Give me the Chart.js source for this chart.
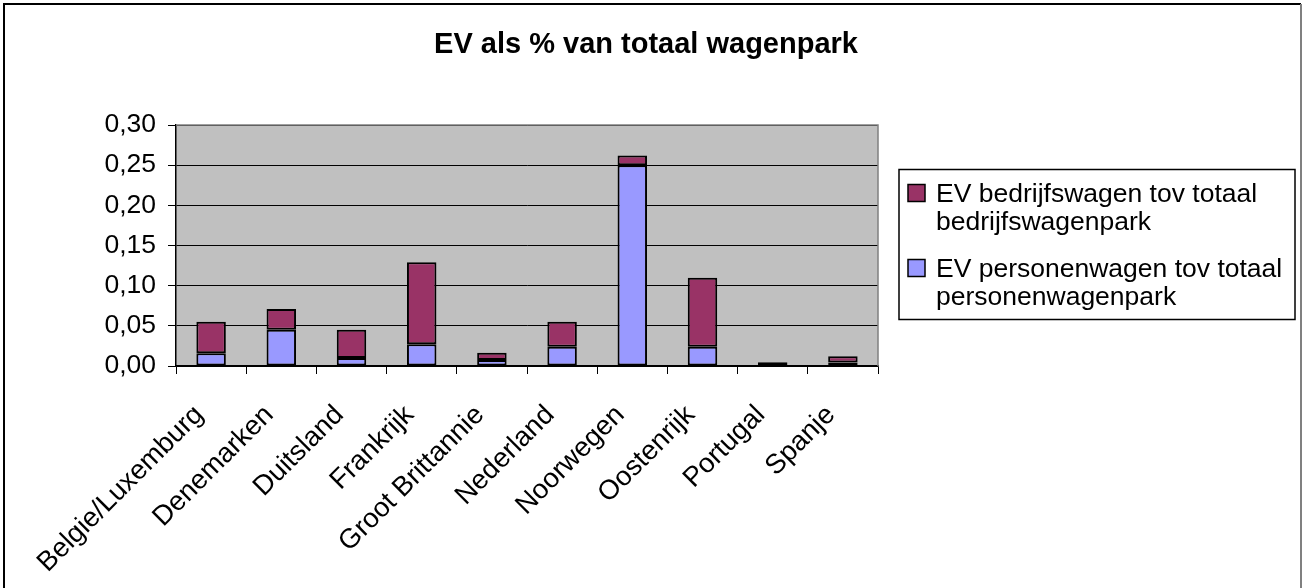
<!DOCTYPE html>
<html>
<head>
<meta charset="utf-8">
<script src="https://cdn.jsdelivr.net/npm/chart.js@4/dist/chart.umd.min.js"></script>
<style>
  body { margin: 0; background: #fff; }
  #wrap { width: 1303px; height: 588px; position: relative; }
</style>
</head>
<body>
<div id="wrap"><canvas id="myChart"></canvas></div>
<script>
const chartTitle = 'EV als % van totaal wagenpark';
const countries = ['Belgie/Luxemburg', 'Denemarken', 'Duitsland', 'Frankrijk', 'Groot Brittannie',
  'Nederland', 'Noorwegen', 'Oostenrijk', 'Portugal', 'Spanje'];
// personenwagen part (bottom, blue)
const personenwagen = [0.016, 0.045, 0.010, 0.027, 0.0075, 0.024, 0.250, 0.024, 0.0048, 0.0045];
// bedrijfswagen part (stacked on top, purple)
const bedrijfswagen = [0.039, 0.026, 0.035, 0.102, 0.009, 0.031, 0.012, 0.086, 0, 0.0075];
const yTicks = [0, 0.05, 0.10, 0.15, 0.20, 0.25, 0.30];

const FONT = 'Arial, "Liberation Sans", sans-serif';

// frame, title, grey plot background, and the boxed legend on the right
const excelLook = {
  id: 'excelLook',
  beforeDraw(chart) {
    const { ctx, chartArea: a } = chart;
    ctx.save();
    ctx.fillStyle = '#fff';
    ctx.fillRect(0, 0, chart.width, chart.height);
    ctx.fillStyle = '#c0c0c0';
    ctx.fillRect(a.left, a.top, a.right - a.left, a.bottom - a.top);
    ctx.restore();
  },
  afterDraw(chart) {
    const { ctx, chartArea: a } = chart;
    ctx.save();
    // outer frame
    ctx.lineWidth = 2;
    ctx.strokeStyle = '#000';
    ctx.beginPath();
    ctx.moveTo(4, chart.height); ctx.lineTo(4, 4); ctx.lineTo(1301, 4);
    ctx.stroke();
    ctx.strokeStyle = '#808080';
    ctx.beginPath();
    ctx.moveTo(1301, 4); ctx.lineTo(1301, chart.height);
    ctx.stroke();
    // plot area top / right edge
    ctx.lineWidth = 1.5;
    ctx.beginPath();
    ctx.moveTo(a.left, a.top); ctx.lineTo(a.right, a.top); ctx.lineTo(a.right, a.bottom);
    ctx.stroke();

    // title
    ctx.fillStyle = '#000';
    ctx.font = 'bold 29px ' + FONT;
    ctx.textAlign = 'center';
    ctx.textBaseline = 'alphabetic';
    ctx.fillText(chartTitle, 646, 53);
    ctx.textAlign = 'left';

    // legend
    const bx = 899, by = 169.5, bw = 396, bh = 150;
    ctx.lineWidth = 1.5;
    ctx.strokeStyle = '#000';
    ctx.strokeRect(bx, by, bw, bh);
    ctx.font = '26.5px ' + FONT;
    const items = chart.data.datasets.slice().reverse();
    let base = 201.5;
    items.forEach((ds) => {
      // wrap label into the box
      const words = ds.label.split(' ');
      const lines = [];
      let cur = '';
      words.forEach((w) => {
        const t = cur ? cur + ' ' + w : w;
        if (ctx.measureText(t).width > 352 && cur) { lines.push(cur); cur = w; } else cur = t;
      });
      lines.push(cur);
      ctx.fillStyle = ds.backgroundColor;
      ctx.fillRect(908, base - 17, 17, 17);
      ctx.lineWidth = 1.5;
      ctx.strokeRect(908, base - 17, 17, 17);
      ctx.fillStyle = '#000';
      lines.forEach((ln, i) => ctx.fillText(ln, 936, base + i * 28.5));
      base += 75;
    });
    ctx.restore();
  }
};

const config = {
  type: 'bar',
  data: {
    labels: countries,
    datasets: [{
      label: 'EV personenwagen tov totaal personenwagenpark',
      data: personenwagen,
      backgroundColor: '#9999ff',
      borderColor: '#000',
      borderWidth: 2,
      borderSkipped: false,
      barPercentage: 0.42,
      categoryPercentage: 1
    }, {
      label: 'EV bedrijfswagen tov totaal bedrijfswagenpark',
      data: bedrijfswagen,
      backgroundColor: '#993366',
      borderColor: '#000',
      borderWidth: 2,
      borderSkipped: false,
      barPercentage: 0.42,
      categoryPercentage: 1
    }]
  },
  options: {
    responsive: true,
    maintainAspectRatio: false,
    animation: false,
    layout: { padding: { left: 0, top: 125, right: 425, bottom: 0 } },
    plugins: {
      legend: { display: false },
      tooltip: { enabled: false },
      title: { display: false }
    },
    scales: {
      x: {
        stacked: true,
        grid: { drawOnChartArea: false, drawTicks: true, tickLength: 8, color: '#000', offset: true },
        border: { color: '#000', width: 1.5 },
        ticks: {
          color: '#000',
          font: { family: FONT, size: 27.5 },
          maxRotation: 45,
          minRotation: 45,
          autoSkip: false,
          padding: 25,
          labelOffset: -12
        },
        afterFit(s) { s.height = 222; }
      },
      y: {
        stacked: true,
        min: 0,
        max: 0.30,
        afterBuildTicks(s) { s.ticks = yTicks.map((v) => ({ value: v })); },
        grid: { color: '#000', lineWidth: 1, tickLength: 8 },
        border: { color: '#000', width: 1.5 },
        ticks: {
          color: '#000',
          font: { family: FONT, size: 26.5 },
          padding: 12,
          callback: (v) => v.toFixed(2).replace('.', ',')
        },
        afterFit(s) { s.width = 176; }
      }
    }
  },
  plugins: [excelLook]
};

new Chart(document.getElementById('myChart'), config);
</script>
</body>
</html>
